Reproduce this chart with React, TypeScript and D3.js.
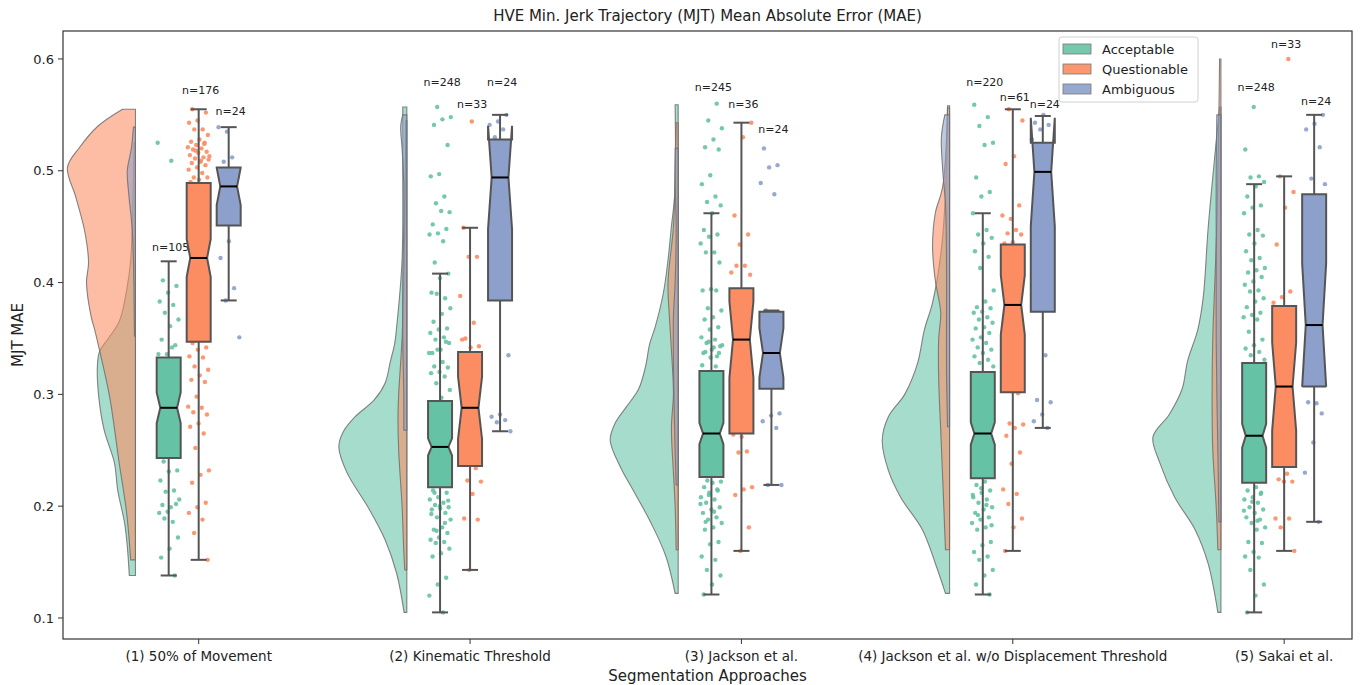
import { useEffect, useRef } from 'react'
import * as d3 from 'd3'

const CATEGORIES = [
  '(1) 50% of Movement',
  '(2) Kinematic Threshold',
  '(3) Jackson et al.',
  '(4) Jackson et al. w/o Displacement Threshold',
  '(5) Sakai et al.',
]
const CLASSES = ['Acceptable', 'Questionable', 'Ambiguous']
const COLORS = ['#66c2a5', '#fc8d62', '#8da0cb']
const Y_TICKS = [0.1, 0.2, 0.3, 0.4, 0.5, 0.6]

// n per category, per class
const ACCEPTABLE_N = [105, 248, 245, 220, 248]
const QUESTIONABLE_N = [176, 33, 36, 61, 33]
const AMBIGUOUS_N = [24, 24, 24, 24, 24]

// where the n= label sits (MAE units)
const ACCEPTABLE_LABEL_AT = [0.432, 0.579, 0.575, 0.579, 0.575]
const QUESTIONABLE_LABEL_AT = [0.572, 0.56, 0.56, 0.566, 0.613]
const AMBIGUOUS_LABEL_AT = [0.553, 0.579, 0.537, 0.56, 0.562]

// [whisker low, q1, median, q3, whisker high]
const ACCEPTABLE_BOX = [
  [0.138, 0.243, 0.288, 0.333, 0.419],
  [0.105, 0.217, 0.253, 0.294, 0.408],
  [0.121, 0.226, 0.265, 0.321, 0.462],
  [0.121, 0.225, 0.265, 0.32, 0.462],
  [0.105, 0.221, 0.263, 0.328, 0.488],
]
const QUESTIONABLE_BOX = [
  [0.152, 0.347, 0.422, 0.489, 0.555],
  [0.143, 0.236, 0.288, 0.338, 0.449],
  [0.16, 0.265, 0.349, 0.395, 0.543],
  [0.16, 0.302, 0.38, 0.434, 0.555],
  [0.16, 0.235, 0.307, 0.379, 0.495],
]
const AMBIGUOUS_BOX = [
  [0.384, 0.451, 0.486, 0.503, 0.539],
  [0.267, 0.384, 0.494, 0.528, 0.55],
  [0.219, 0.305, 0.337, 0.374, 0.375],
  [0.27, 0.374, 0.499, 0.525, 0.549],
  [0.186, 0.307, 0.362, 0.479, 0.55],
]

// half-violin profiles: [MAE, relative density]
const ACCEPTABLE_DENSITY = [
  [[0.525, 0.02], [0.47, 0.04], [0.42, 0.07], [0.393, 0.13], [0.365, 0.24], [0.35, 0.4], [0.338, 0.53], [0.325, 0.56], [0.298, 0.54], [0.268, 0.46], [0.239, 0.31], [0.214, 0.26], [0.185, 0.16], [0.164, 0.12], [0.138, 0.09]],
  [[0.557, 0.06], [0.51, 0.06], [0.42, 0.07], [0.36, 0.15], [0.345, 0.18], [0.33, 0.24], [0.31, 0.32], [0.295, 0.48], [0.28, 0.76], [0.266, 0.94], [0.253, 1.0], [0.23, 0.88], [0.199, 0.57], [0.17, 0.32], [0.14, 0.15], [0.105, 0.04]],
  [[0.559, 0.045], [0.48, 0.05], [0.45, 0.1], [0.42, 0.15], [0.39, 0.22], [0.36, 0.34], [0.345, 0.42], [0.325, 0.48], [0.305, 0.58], [0.289, 0.76], [0.274, 0.93], [0.259, 1.0], [0.235, 0.85], [0.214, 0.66], [0.185, 0.4], [0.155, 0.18], [0.122, 0.045]],
  [[0.558, 0.03], [0.48, 0.06], [0.43, 0.12], [0.382, 0.25], [0.358, 0.37], [0.328, 0.47], [0.3, 0.66], [0.28, 0.9], [0.259, 0.99], [0.232, 0.9], [0.208, 0.72], [0.179, 0.4], [0.149, 0.21], [0.122, 0.06]],
  [[0.557, 0.02], [0.507, 0.1], [0.447, 0.19], [0.387, 0.26], [0.358, 0.34], [0.33, 0.49], [0.305, 0.57], [0.282, 0.76], [0.262, 1.0], [0.239, 0.9], [0.208, 0.68], [0.179, 0.38], [0.149, 0.19], [0.105, 0.045]],
]
const QUESTIONABLE_DENSITY = [
  [[0.555, 0.19], [0.54, 0.55], [0.521, 0.82], [0.503, 1.0], [0.477, 0.88], [0.447, 0.75], [0.418, 0.69], [0.4, 0.72], [0.369, 0.65], [0.358, 0.6], [0.34, 0.53], [0.298, 0.38], [0.239, 0.24], [0.194, 0.13], [0.152, 0.07]],
  [[0.545, 0.015], [0.45, 0.03], [0.4, 0.045], [0.35, 0.07], [0.3, 0.12], [0.28, 0.13], [0.25, 0.12], [0.2, 0.07], [0.16, 0.045], [0.143, 0.03]],
  [[0.543, 0.03], [0.5, 0.045], [0.45, 0.07], [0.4, 0.15], [0.37, 0.13], [0.33, 0.09], [0.3, 0.07], [0.27, 0.1], [0.23, 0.07], [0.2, 0.045], [0.161, 0.03]],
  [[0.556, 0.03], [0.486, 0.1], [0.462, 0.21], [0.432, 0.25], [0.402, 0.21], [0.373, 0.13], [0.35, 0.16], [0.313, 0.16], [0.268, 0.13], [0.223, 0.1], [0.161, 0.06]],
  [[0.6, 0.02], [0.55, 0.03], [0.5, 0.045], [0.45, 0.06], [0.4, 0.09], [0.35, 0.12], [0.3, 0.13], [0.25, 0.12], [0.2, 0.07], [0.161, 0.045]],
]
const AMBIGUOUS_DENSITY = [
  [[0.539, 0.03], [0.52, 0.06], [0.5, 0.12], [0.48, 0.1], [0.45, 0.05], [0.42, 0.03], [0.38, 0.02], [0.352, 0.015]],
  [[0.55, 0.06], [0.54, 0.09], [0.52, 0.07], [0.49, 0.045], [0.45, 0.045], [0.4, 0.06], [0.35, 0.06], [0.3, 0.045], [0.268, 0.045]],
  [[0.52, 0.045], [0.49, 0.045], [0.45, 0.03], [0.4, 0.045], [0.37, 0.07], [0.33, 0.07], [0.29, 0.06], [0.25, 0.045], [0.219, 0.03]],
  [[0.55, 0.07], [0.53, 0.12], [0.5, 0.1], [0.47, 0.06], [0.42, 0.045], [0.37, 0.045], [0.32, 0.045], [0.271, 0.03]],
  [[0.55, 0.06], [0.5, 0.07], [0.45, 0.07], [0.4, 0.07], [0.35, 0.07], [0.3, 0.06], [0.25, 0.045], [0.186, 0.03]],
]

// observations visible outside the boxes
const ACCEPTABLE_POINTS = [
  [0.525, 0.509, 0.402, 0.397, 0.391, 0.383, 0.38, 0.373, 0.367, 0.361, 0.349, 0.344, 0.336, 0.336, 0.342, 0.24, 0.232, 0.231, 0.223, 0.214, 0.213, 0.206, 0.199, 0.201, 0.202, 0.195, 0.194, 0.186, 0.189, 0.172, 0.162, 0.154, 0.138],
  [0.557, 0.548, 0.546, 0.541, 0.523, 0.497, 0.495, 0.477, 0.471, 0.463, 0.464, 0.452, 0.448, 0.444, 0.443, 0.437, 0.418, 0.408, 0.404, 0.391, 0.386, 0.39, 0.377, 0.372, 0.365, 0.359, 0.358, 0.355, 0.351, 0.349, 0.346, 0.34, 0.337, 0.347, 0.34, 0.337, 0.329, 0.325, 0.324, 0.32, 0.319, 0.316, 0.31, 0.304, 0.297, 0.214, 0.212, 0.208, 0.206, 0.203, 0.201, 0.199, 0.198, 0.197, 0.194, 0.19, 0.188, 0.181, 0.179, 0.176, 0.172, 0.17, 0.168, 0.167, 0.162, 0.158, 0.155, 0.136, 0.13, 0.12, 0.105, 0.212, 0.205, 0.2, 0.193, 0.185, 0.178],
  [0.56, 0.545, 0.538, 0.528, 0.521, 0.519, 0.496, 0.488, 0.477, 0.472, 0.469, 0.462, 0.447, 0.443, 0.441, 0.435, 0.427, 0.427, 0.418, 0.394, 0.393, 0.393, 0.377, 0.375, 0.369, 0.367, 0.36, 0.358, 0.351, 0.349, 0.346, 0.343, 0.34, 0.337, 0.334, 0.347, 0.344, 0.342, 0.338, 0.337, 0.333, 0.326, 0.325, 0.223, 0.222, 0.221, 0.217, 0.214, 0.212, 0.208, 0.206, 0.203, 0.199, 0.197, 0.194, 0.19, 0.188, 0.185, 0.181, 0.179, 0.168, 0.166, 0.155, 0.152, 0.143, 0.138, 0.13, 0.121, 0.215, 0.21, 0.202, 0.195, 0.186],
  [0.559, 0.548, 0.54, 0.525, 0.523, 0.494, 0.481, 0.477, 0.462, 0.447, 0.443, 0.44, 0.435, 0.428, 0.423, 0.413, 0.393, 0.383, 0.378, 0.377, 0.374, 0.373, 0.369, 0.367, 0.364, 0.36, 0.359, 0.355, 0.351, 0.349, 0.346, 0.342, 0.34, 0.337, 0.334, 0.331, 0.328, 0.325, 0.222, 0.219, 0.214, 0.212, 0.208, 0.206, 0.203, 0.199, 0.197, 0.194, 0.19, 0.188, 0.185, 0.181, 0.179, 0.168, 0.165, 0.159, 0.155, 0.152, 0.143, 0.138, 0.13, 0.121, 0.216, 0.21, 0.201, 0.192, 0.183],
  [0.557, 0.519, 0.495, 0.494, 0.49, 0.486, 0.477, 0.469, 0.467, 0.462, 0.447, 0.443, 0.442, 0.435, 0.428, 0.422, 0.42, 0.413, 0.411, 0.409, 0.405, 0.401, 0.398, 0.393, 0.392, 0.386, 0.383, 0.378, 0.373, 0.371, 0.369, 0.367, 0.356, 0.349, 0.344, 0.341, 0.338, 0.335, 0.331, 0.217, 0.214, 0.212, 0.208, 0.206, 0.203, 0.199, 0.197, 0.194, 0.19, 0.188, 0.185, 0.181, 0.179, 0.168, 0.167, 0.159, 0.155, 0.154, 0.143, 0.13, 0.12, 0.105, 0.211, 0.204, 0.196, 0.187],
]
const QUESTIONABLE_POINTS = [
  [0.555, 0.552, 0.545, 0.543, 0.537, 0.537, 0.532, 0.528, 0.526, 0.525, 0.523, 0.521, 0.52, 0.519, 0.517, 0.516, 0.514, 0.512, 0.511, 0.51, 0.508, 0.507, 0.505, 0.503, 0.501, 0.498, 0.494, 0.494, 0.492, 0.49, 0.524, 0.518, 0.513, 0.509, 0.346, 0.342, 0.34, 0.334, 0.333, 0.325, 0.322, 0.317, 0.313, 0.311, 0.298, 0.289, 0.288, 0.284, 0.282, 0.274, 0.271, 0.265, 0.252, 0.232, 0.228, 0.221, 0.203, 0.199, 0.194, 0.188, 0.176, 0.152],
  [0.544, 0.449, 0.423, 0.423, 0.388, 0.364, 0.35, 0.343, 0.342, 0.349, 0.234, 0.223, 0.222, 0.211, 0.189, 0.188, 0.143],
  [0.543, 0.53, 0.46, 0.443, 0.434, 0.409, 0.415, 0.415, 0.407, 0.262, 0.264, 0.249, 0.248, 0.217, 0.215, 0.21, 0.181, 0.16],
  [0.555, 0.545, 0.513, 0.506, 0.469, 0.457, 0.46, 0.447, 0.444, 0.443, 0.436, 0.435, 0.301, 0.274, 0.273, 0.27, 0.263, 0.248, 0.238, 0.215, 0.211, 0.202, 0.189, 0.181, 0.16],
  [0.6, 0.495, 0.481, 0.467, 0.434, 0.392, 0.387, 0.382, 0.229, 0.224, 0.222, 0.222, 0.189, 0.189, 0.181, 0.16],
]
const AMBIGUOUS_POINTS = [
  [0.535, 0.539, 0.512, 0.508, 0.494, 0.437, 0.422, 0.395, 0.384, 0.351],
  [0.55, 0.544, 0.541, 0.537, 0.53, 0.335, 0.282, 0.28, 0.277, 0.275, 0.267],
  [0.52, 0.505, 0.503, 0.489, 0.479, 0.375, 0.283, 0.281, 0.276, 0.27, 0.219, 0.219],
  [0.55, 0.543, 0.541, 0.537, 0.528, 0.335, 0.295, 0.293, 0.282, 0.276, 0.27],
  [0.55, 0.542, 0.537, 0.521, 0.493, 0.488, 0.292, 0.293, 0.283, 0.257, 0.23, 0.186],
]

const SERIES = [
  { n: ACCEPTABLE_N, box: ACCEPTABLE_BOX, density: ACCEPTABLE_DENSITY, points: ACCEPTABLE_POINTS, labelAt: ACCEPTABLE_LABEL_AT },
  { n: QUESTIONABLE_N, box: QUESTIONABLE_BOX, density: QUESTIONABLE_DENSITY, points: QUESTIONABLE_POINTS, labelAt: QUESTIONABLE_LABEL_AT },
  { n: AMBIGUOUS_N, box: AMBIGUOUS_BOX, density: AMBIGUOUS_DENSITY, points: AMBIGUOUS_POINTS, labelAt: AMBIGUOUS_LABEL_AT },
]

const FONT = '"DejaVu Sans", sans-serif'
const EDGE = '#555555'

export default function App() {
  const ref = useRef<SVGSVGElement>(null)

  useEffect(() => {
    const svg = d3.select(ref.current)
    svg.selectAll('*').remove()

    const left = 63
    const right = 1352
    const top = 31
    const bottom = 639

    const x = d3.scaleLinear().domain([-0.5, 4.25]).range([left, right])
    const y = d3.scaleLinear().domain([0.0812, 0.625]).range([bottom, top])
    const unit = x(1) - x(0)

    const boxOffset = 30 / unit
    const boxW = 24
    const capW = 16
    const violinBase = -0.233
    const violinMax = 68
    const jitter = 11

    const plot = svg.append('g')

    // half violins
    CATEGORIES.forEach((_, g) => {
      const base = x(g + violinBase)
      SERIES.forEach((s, c) => {
        const area = d3
          .area<number[]>()
          .y((d) => y(d[0]))
          .x0(base)
          .x1((d) => base - d[1] * violinMax)
          .curve(d3.curveCatmullRom.alpha(0.5))
        plot
          .append('path')
          .attr('d', area(s.density[g]))
          .attr('fill', COLORS[c])
          .attr('fill-opacity', 0.58)
          .attr('stroke', '#6e6e6e')
          .attr('stroke-opacity', 0.85)
          .attr('stroke-width', 1.1)
      })
    })

    // strip points
    CATEGORIES.forEach((_, g) => {
      SERIES.forEach((s, c) => {
        const cx = x(g + (c - 1) * boxOffset)
        plot
          .append('g')
          .selectAll('circle')
          .data(s.points[g])
          .enter()
          .append('circle')
          .attr('cx', (_d, i) => cx + (((i * 0.6180339887 + g * 0.37 + c * 0.21) % 1) - 0.5) * 2 * jitter)
          .attr('cy', (d) => y(d))
          .attr('r', 2.2)
          .attr('fill', COLORS[c])
          .attr('fill-opacity', 0.9)
      })
    })

    // notched boxes
    CATEGORIES.forEach((_, g) => {
      SERIES.forEach((s, c) => {
        const [lo, q1, med, q3, hi] = s.box[g]
        const n = s.n[g]
        const cx = x(g + (c - 1) * boxOffset)
        const notch = (1.57 * (q3 - q1)) / Math.sqrt(n)
        const ciLo = med - notch
        const ciHi = med + notch
        const bl = cx - boxW / 2
        const br = cx + boxW / 2
        const nl = cx - boxW * 0.35
        const nr = cx + boxW * 0.35
        const pts: [number, number][] = [
          [bl, y(q1)], [br, y(q1)], [br, y(ciLo)], [nr, y(med)], [br, y(ciHi)], [br, y(q3)],
          [bl, y(q3)], [bl, y(ciHi)], [nl, y(med)], [bl, y(ciLo)], [bl, y(q1)],
        ]
        const grp = plot.append('g')
        grp
          .append('line')
          .attr('x1', cx).attr('x2', cx)
          .attr('y1', y(q1)).attr('y2', y(lo))
          .attr('stroke', EDGE).attr('stroke-width', 2)
        grp
          .append('line')
          .attr('x1', cx).attr('x2', cx)
          .attr('y1', y(q3)).attr('y2', y(hi))
          .attr('stroke', EDGE).attr('stroke-width', 2)
        ;[lo, hi].forEach((v) => {
          grp
            .append('line')
            .attr('x1', cx - capW / 2).attr('x2', cx + capW / 2)
            .attr('y1', y(v)).attr('y2', y(v))
            .attr('stroke', EDGE).attr('stroke-width', 2)
        })
        grp
          .append('path')
          .attr('d', d3.line()(pts) + 'Z')
          .attr('fill', COLORS[c])
          .attr('stroke', EDGE)
          .attr('stroke-width', 2)
          .attr('stroke-linejoin', 'miter')
        grp
          .append('line')
          .attr('x1', nl).attr('x2', nr)
          .attr('y1', y(med)).attr('y2', y(med))
          .attr('stroke', '#000').attr('stroke-width', 2)

        grp
          .append('text')
          .attr('x', cx + 2)
          .attr('y', y(s.labelAt[g]))
          .attr('dy', '0.35em')
          .attr('text-anchor', 'middle')
          .attr('font-family', FONT)
          .attr('font-size', 11)
          .attr('fill', '#222')
          .text(`n=${n}`)
      })
    })

    // frame
    svg
      .append('rect')
      .attr('x', left).attr('y', top)
      .attr('width', right - left).attr('height', bottom - top)
      .attr('fill', 'none').attr('stroke', '#333').attr('stroke-width', 1.2)

    // y axis
    const yAxis = svg.append('g')
    Y_TICKS.forEach((t) => {
      yAxis.append('line')
        .attr('x1', left - 5).attr('x2', left)
        .attr('y1', y(t)).attr('y2', y(t))
        .attr('stroke', '#333').attr('stroke-width', 1)
      yAxis.append('text')
        .attr('x', left - 9).attr('y', y(t)).attr('dy', '0.35em')
        .attr('text-anchor', 'end')
        .attr('font-family', FONT).attr('font-size', 13).attr('fill', '#222')
        .text(d3.format('.1f')(t))
    })

    // x axis
    const xAxis = svg.append('g')
    CATEGORIES.forEach((label, g) => {
      xAxis.append('line')
        .attr('x1', x(g)).attr('x2', x(g))
        .attr('y1', bottom).attr('y2', bottom + 5)
        .attr('stroke', '#333').attr('stroke-width', 1)
      xAxis.append('text')
        .attr('x', x(g)).attr('y', 656).attr('dy', '0.35em')
        .attr('text-anchor', 'middle')
        .attr('font-family', FONT).attr('font-size', 13.5).attr('fill', '#222')
        .text(label)
    })

    svg.append('text')
      .attr('x', (left + right) / 2).attr('y', 676).attr('dy', '0.35em')
      .attr('text-anchor', 'middle')
      .attr('font-family', FONT).attr('font-size', 15).attr('fill', '#222')
      .text('Segmentation Approaches')

    svg.append('text')
      .attr('transform', `translate(18,${(top + bottom) / 2}) rotate(-90)`)
      .attr('dy', '0.35em')
      .attr('text-anchor', 'middle')
      .attr('font-family', FONT).attr('font-size', 15).attr('fill', '#222')
      .text('MJT MAE')

    svg.append('text')
      .attr('x', (left + right) / 2).attr('y', 16).attr('dy', '0.35em')
      .attr('text-anchor', 'middle')
      .attr('font-family', FONT).attr('font-size', 15).attr('fill', '#222')
      .text('HVE Min. Jerk Trajectory (MJT) Mean Absolute Error (MAE)')

    // legend
    const lg = svg.append('g').attr('transform', 'translate(1059,37)')
    lg.append('rect')
      .attr('width', 139).attr('height', 65).attr('rx', 3)
      .attr('fill', '#fff').attr('fill-opacity', 0.85)
      .attr('stroke', '#d0d0d0')
    CLASSES.forEach((name, c) => {
      const row = lg.append('g').attr('transform', `translate(0,${12 + c * 20})`)
      row.append('rect')
        .attr('x', 4).attr('y', -5).attr('width', 28).attr('height', 10)
        .attr('fill', COLORS[c]).attr('fill-opacity', 0.9)
        .attr('stroke', '#777').attr('stroke-width', 0.8)
      row.append('text')
        .attr('x', 43).attr('y', 0).attr('dy', '0.35em')
        .attr('font-family', FONT).attr('font-size', 13).attr('fill', '#222')
        .text(name)
    })
  }, [])

  return (
    <svg
      ref={ref}
      width={1364}
      height={685}
      style={{ position: 'absolute', left: 0, top: 0, background: '#fff' }}
    />
  )
}
